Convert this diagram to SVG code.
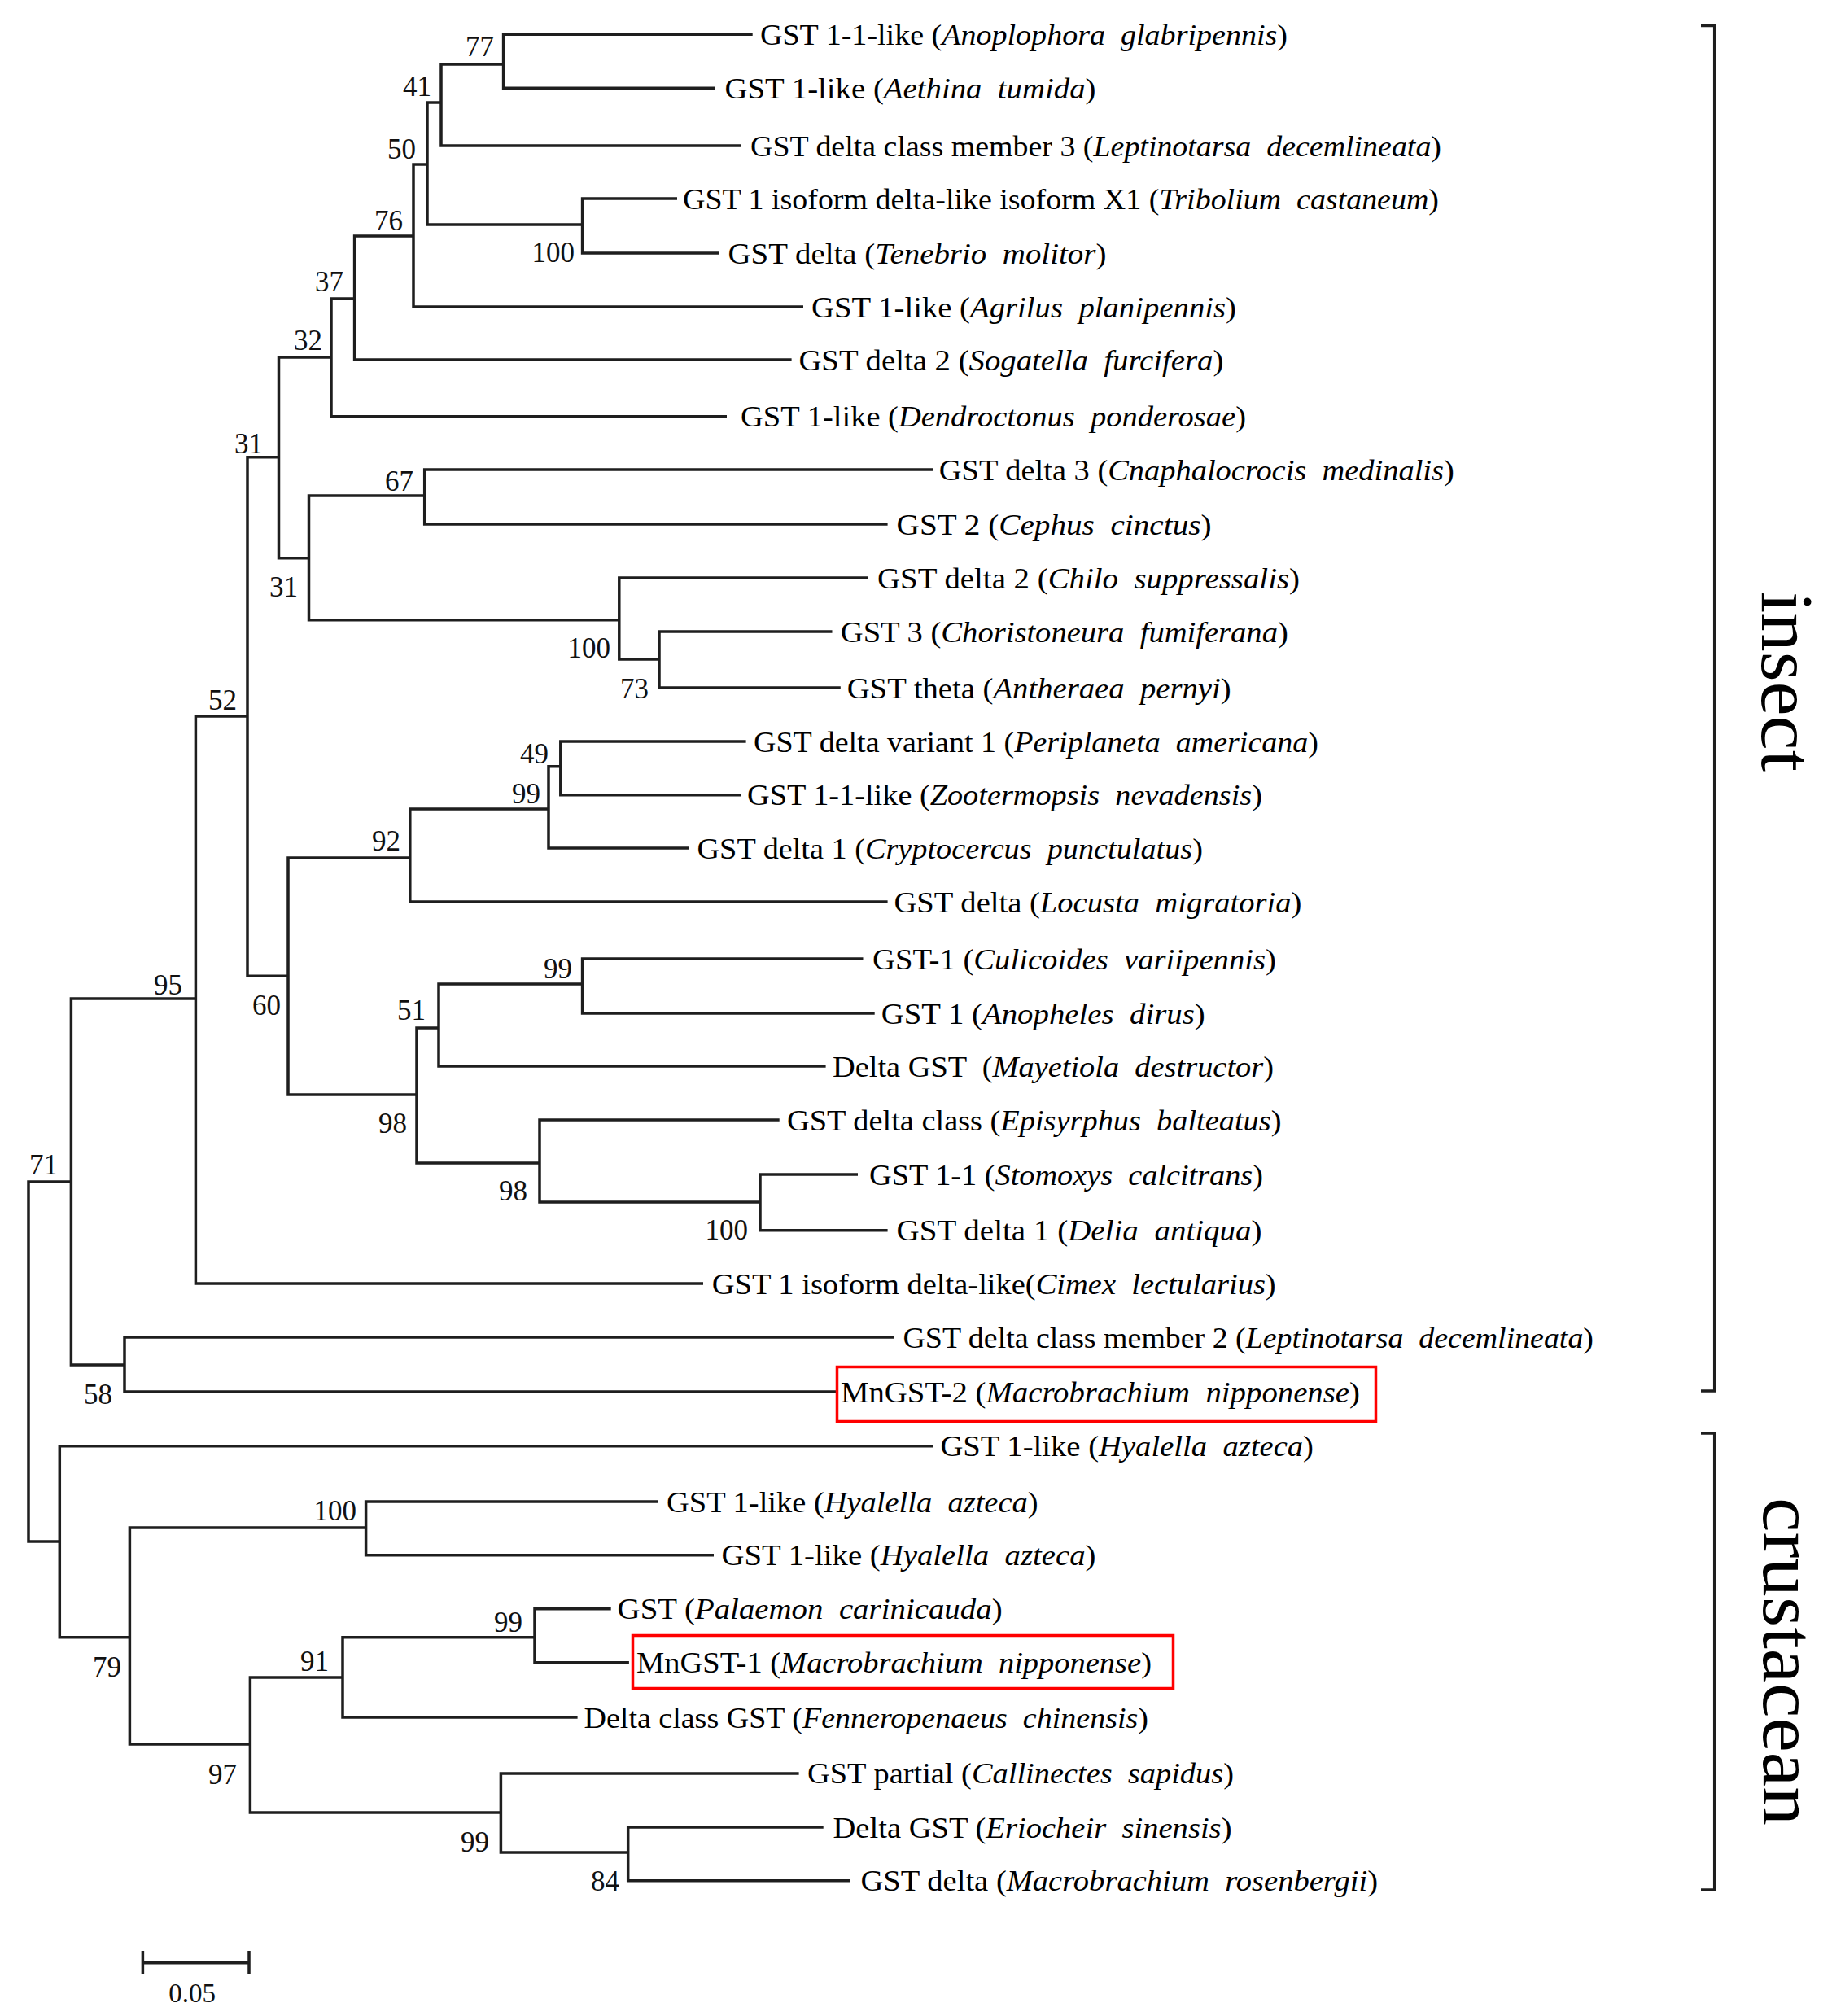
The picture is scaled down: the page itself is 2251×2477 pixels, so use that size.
<svg xmlns="http://www.w3.org/2000/svg" width="2251" height="2477" viewBox="0 0 2251 2477">
<style>
.t{font-family:"Liberation Serif","Times New Roman",serif;font-size:36px;fill:#000}
.i{font-style:italic}
.bs{font-family:"Liberation Serif","Times New Roman",serif;font-size:35px;fill:#111;text-anchor:end}
.ln{fill:none;stroke:#1e1e1e;stroke-width:3.5;stroke-linejoin:miter}
.box{fill:none;stroke:#ff0000;stroke-width:3.5}
.clade{font-family:"Liberation Serif","Times New Roman",serif;font-size:92px;fill:#000}
</style>
<rect width="2251" height="2477" fill="#fff"/>
<g id="connectors" class="ln">
<path d="M924.7 42.3H618.6V108.3H878.6"/>
<path d="M618.6 79H542V179H910.7"/>
<path d="M542 126H525V276H715.6"/>
<path d="M832 244H715.6V311H883"/>
<path d="M525 202H508V377H987"/>
<path d="M508 290H435.6V442H972.6"/>
<path d="M435.6 367H407V511.7H893"/>
<path d="M407 439H342.5V685.7H379.5"/>
<path d="M521.7 609H379.5V761.7H760.8"/>
<path d="M1146 577H521.7V644H1090.6"/>
<path d="M1066.8 710H760.8V810H810"/>
<path d="M1022.5 776H810V845H1032.8"/>
<path d="M342.5 561.7H304V1199.3H354"/>
<path d="M503.8 1054H354V1345H512"/>
<path d="M674 994H503.8V1108H1090.6"/>
<path d="M688.8 941.7H674V1042H847"/>
<path d="M916.6 911H688.8V976.7H910"/>
<path d="M539 1263H512V1429H663"/>
<path d="M715.6 1209H539V1310H1014.6"/>
<path d="M1060.5 1178H715.6V1245H1074.7"/>
<path d="M957.7 1376H663V1477H934"/>
<path d="M1054 1443H934V1511.7H1090.6"/>
<path d="M304 880H240.4V1577H864"/>
<path d="M240.4 1227H87.4V1677H153"/>
<path d="M1098.5 1643H153V1710H1027"/>
<path d="M87.4 1452H35V1894H73.3"/>
<path d="M1146 1776.7H73.3V2011.7H159.4"/>
<path d="M449.6 1877H159.4V2143H307.4"/>
<path d="M809 1845H449.6V1910.7H877"/>
<path d="M421 2061H307.4V2227H615.4"/>
<path d="M657 2011.7H421V2110H709.6"/>
<path d="M750.7 1976.7H657V2042.7H772.9"/>
<path d="M981.6 2179H615.4V2276H771.7"/>
<path d="M1011.7 2245H771.7V2310.7H1045"/>
</g>
<g id="leaves">
<g id="leaf-01"><text class="t" x="934" y="54.8" textLength="648" lengthAdjust="spacingAndGlyphs" xml:space="preserve">GST 1-1-like (<tspan class="i">Anoplophora  glabripennis</tspan>)</text></g>
<g id="leaf-02"><text class="t" x="890.5" y="120.8" textLength="456" lengthAdjust="spacingAndGlyphs" xml:space="preserve">GST 1-like (<tspan class="i">Aethina  tumida</tspan>)</text></g>
<g id="leaf-03"><text class="t" x="922" y="191.5" textLength="849" lengthAdjust="spacingAndGlyphs" xml:space="preserve">GST delta class member 3 (<tspan class="i">Leptinotarsa  decemlineata</tspan>)</text></g>
<g id="leaf-04"><text class="t" x="839" y="256.5" textLength="929" lengthAdjust="spacingAndGlyphs" xml:space="preserve">GST 1 isoform delta-like isoform X1 (<tspan class="i">Tribolium  castaneum</tspan>)</text></g>
<g id="leaf-05"><text class="t" x="894.4" y="323.5" textLength="465" lengthAdjust="spacingAndGlyphs" xml:space="preserve">GST delta (<tspan class="i">Tenebrio  molitor</tspan>)</text></g>
<g id="leaf-06"><text class="t" x="997" y="389.5" textLength="522" lengthAdjust="spacingAndGlyphs" xml:space="preserve">GST 1-like (<tspan class="i">Agrilus  planipennis</tspan>)</text></g>
<g id="leaf-07"><text class="t" x="981.4" y="454.5" textLength="522" lengthAdjust="spacingAndGlyphs" xml:space="preserve">GST delta 2 (<tspan class="i">Sogatella  furcifera</tspan>)</text></g>
<g id="leaf-08"><text class="t" x="910" y="524" textLength="621" lengthAdjust="spacingAndGlyphs" xml:space="preserve">GST 1-like (<tspan class="i">Dendroctonus  ponderosae</tspan>)</text></g>
<g id="leaf-09"><text class="t" x="1153.8" y="590" textLength="633" lengthAdjust="spacingAndGlyphs" xml:space="preserve">GST delta 3 (<tspan class="i">Cnaphalocrocis  medinalis</tspan>)</text></g>
<g id="leaf-10"><text class="t" x="1101.6" y="656.5" textLength="387" lengthAdjust="spacingAndGlyphs" xml:space="preserve">GST 2 (<tspan class="i">Cephus  cinctus</tspan>)</text></g>
<g id="leaf-11"><text class="t" x="1078" y="722.5" textLength="519" lengthAdjust="spacingAndGlyphs" xml:space="preserve">GST delta 2 (<tspan class="i">Chilo  suppressalis</tspan>)</text></g>
<g id="leaf-12"><text class="t" x="1032.8" y="788.5" textLength="550" lengthAdjust="spacingAndGlyphs" xml:space="preserve">GST 3 (<tspan class="i">Choristoneura  fumiferana</tspan>)</text></g>
<g id="leaf-13"><text class="t" x="1040.7" y="857.5" textLength="472" lengthAdjust="spacingAndGlyphs" xml:space="preserve">GST theta (<tspan class="i">Antheraea  pernyi</tspan>)</text></g>
<g id="leaf-14"><text class="t" x="926" y="923.5" textLength="694" lengthAdjust="spacingAndGlyphs" xml:space="preserve">GST delta variant 1 (<tspan class="i">Periplaneta  americana</tspan>)</text></g>
<g id="leaf-15"><text class="t" x="918" y="989" textLength="633" lengthAdjust="spacingAndGlyphs" xml:space="preserve">GST 1-1-like (<tspan class="i">Zootermopsis  nevadensis</tspan>)</text></g>
<g id="leaf-16"><text class="t" x="856.5" y="1054.5" textLength="621.5" lengthAdjust="spacingAndGlyphs" xml:space="preserve">GST delta 1 (<tspan class="i">Cryptocercus  punctulatus</tspan>)</text></g>
<g id="leaf-17"><text class="t" x="1098.5" y="1120.5" textLength="501" lengthAdjust="spacingAndGlyphs" xml:space="preserve">GST delta (<tspan class="i">Locusta  migratoria</tspan>)</text></g>
<g id="leaf-18"><text class="t" x="1072" y="1190.5" textLength="496" lengthAdjust="spacingAndGlyphs" xml:space="preserve">GST-1 (<tspan class="i">Culicoides  variipennis</tspan>)</text></g>
<g id="leaf-19"><text class="t" x="1082.7" y="1257.5" textLength="398" lengthAdjust="spacingAndGlyphs" xml:space="preserve">GST 1 (<tspan class="i">Anopheles  dirus</tspan>)</text></g>
<g id="leaf-20"><text class="t" x="1023" y="1322.5" textLength="542" lengthAdjust="spacingAndGlyphs" xml:space="preserve">Delta GST  (<tspan class="i">Mayetiola  destructor</tspan>)</text></g>
<g id="leaf-21"><text class="t" x="967" y="1388.5" textLength="607.5" lengthAdjust="spacingAndGlyphs" xml:space="preserve">GST delta class (<tspan class="i">Episyrphus  balteatus</tspan>)</text></g>
<g id="leaf-22"><text class="t" x="1068" y="1455.5" textLength="484" lengthAdjust="spacingAndGlyphs" xml:space="preserve">GST 1-1 (<tspan class="i">Stomoxys  calcitrans</tspan>)</text></g>
<g id="leaf-23"><text class="t" x="1101.6" y="1524" textLength="449" lengthAdjust="spacingAndGlyphs" xml:space="preserve">GST delta 1 (<tspan class="i">Delia  antiqua</tspan>)</text></g>
<g id="leaf-24"><text class="t" x="874.7" y="1589.5" textLength="693" lengthAdjust="spacingAndGlyphs" xml:space="preserve">GST 1 isoform delta-like(<tspan class="i">Cimex  lectularius</tspan>)</text></g>
<g id="leaf-25"><text class="t" x="1109.5" y="1655.5" textLength="848.5" lengthAdjust="spacingAndGlyphs" xml:space="preserve">GST delta class member 2 (<tspan class="i">Leptinotarsa  decemlineata</tspan>)</text></g>
<g id="leaf-26"><rect class="box" x="1028.5" y="1679.5" width="662" height="67"/><text class="t" x="1033" y="1722.5" textLength="638" lengthAdjust="spacingAndGlyphs" xml:space="preserve">MnGST-2 (<tspan class="i">Macrobrachium  nipponense</tspan>)</text></g>
<g id="leaf-27"><text class="t" x="1155.4" y="1789" textLength="458.6" lengthAdjust="spacingAndGlyphs" xml:space="preserve">GST 1-like (<tspan class="i">Hyalella  azteca</tspan>)</text></g>
<g id="leaf-28"><text class="t" x="819" y="1857.5" textLength="456.6" lengthAdjust="spacingAndGlyphs" xml:space="preserve">GST 1-like (<tspan class="i">Hyalella  azteca</tspan>)</text></g>
<g id="leaf-29"><text class="t" x="886.5" y="1923" textLength="460" lengthAdjust="spacingAndGlyphs" xml:space="preserve">GST 1-like (<tspan class="i">Hyalella  azteca</tspan>)</text></g>
<g id="leaf-30"><text class="t" x="758.6" y="1989" textLength="473" lengthAdjust="spacingAndGlyphs" xml:space="preserve">GST (<tspan class="i">Palaemon  carinicauda</tspan>)</text></g>
<g id="leaf-31"><rect class="box" x="777.5" y="2009.5" width="664" height="65"/><text class="t" x="782" y="2055" textLength="633" lengthAdjust="spacingAndGlyphs" xml:space="preserve">MnGST-1 (<tspan class="i">Macrobrachium  nipponense</tspan>)</text></g>
<g id="leaf-32"><text class="t" x="717.5" y="2122.5" textLength="693.5" lengthAdjust="spacingAndGlyphs" xml:space="preserve">Delta class GST (<tspan class="i">Fenneropenaeus  chinensis</tspan>)</text></g>
<g id="leaf-33"><text class="t" x="992" y="2190.5" textLength="524" lengthAdjust="spacingAndGlyphs" xml:space="preserve">GST partial (<tspan class="i">Callinectes  sapidus</tspan>)</text></g>
<g id="leaf-34"><text class="t" x="1023.5" y="2257.5" textLength="490" lengthAdjust="spacingAndGlyphs" xml:space="preserve">Delta GST (<tspan class="i">Eriocheir  sinensis</tspan>)</text></g>
<g id="leaf-35"><text class="t" x="1057.5" y="2323" textLength="635.5" lengthAdjust="spacingAndGlyphs" xml:space="preserve">GST delta (<tspan class="i">Macrobrachium  rosenbergii</tspan>)</text></g>
</g>
<g id="bootstrap">
<g id="node-n77"><text class="bs" x="607" y="69">77</text></g>
<g id="node-n41"><text class="bs" x="530" y="118">41</text></g>
<g id="node-n50"><text class="bs" x="511" y="195">50</text></g>
<g id="node-n100a"><text class="bs" x="706" y="322">100</text></g>
<g id="node-n76"><text class="bs" x="495" y="283">76</text></g>
<g id="node-n37"><text class="bs" x="422" y="358">37</text></g>
<g id="node-n32"><text class="bs" x="396" y="430">32</text></g>
<g id="node-n31a"><text class="bs" x="323" y="557">31</text></g>
<g id="node-n31b"><text class="bs" x="366" y="733">31</text></g>
<g id="node-n67"><text class="bs" x="508" y="603">67</text></g>
<g id="node-n100b"><text class="bs" x="750" y="808">100</text></g>
<g id="node-n73"><text class="bs" x="797" y="858">73</text></g>
<g id="node-n52"><text class="bs" x="291" y="872">52</text></g>
<g id="node-n92"><text class="bs" x="492" y="1045">92</text></g>
<g id="node-n99a"><text class="bs" x="664" y="987">99</text></g>
<g id="node-n49"><text class="bs" x="674" y="938">49</text></g>
<g id="node-n95"><text class="bs" x="224" y="1222">95</text></g>
<g id="node-n99b"><text class="bs" x="703" y="1202">99</text></g>
<g id="node-n51"><text class="bs" x="523" y="1253">51</text></g>
<g id="node-n60"><text class="bs" x="345" y="1247">60</text></g>
<g id="node-n98a"><text class="bs" x="500" y="1392">98</text></g>
<g id="node-n98b"><text class="bs" x="648" y="1475">98</text></g>
<g id="node-n100c"><text class="bs" x="919" y="1523">100</text></g>
<g id="node-n71"><text class="bs" x="71" y="1443">71</text></g>
<g id="node-n58"><text class="bs" x="138" y="1725">58</text></g>
<g id="node-n100d"><text class="bs" x="438" y="1868">100</text></g>
<g id="node-n79"><text class="bs" x="149" y="2060">79</text></g>
<g id="node-n99c"><text class="bs" x="642" y="2005">99</text></g>
<g id="node-n91"><text class="bs" x="404" y="2053">91</text></g>
<g id="node-n97"><text class="bs" x="291" y="2192">97</text></g>
<g id="node-n99d"><text class="bs" x="601" y="2275">99</text></g>
<g id="node-n84"><text class="bs" x="761" y="2323">84</text></g>
</g>
<g id="clade-insect">
<path class="ln" d="M2090 31.6H2106.7V1709H2090"/>
<text class="clade" transform="translate(2165 727) rotate(90)" textLength="221" lengthAdjust="spacingAndGlyphs">insect</text>
</g>
<g id="clade-crustacean">
<path class="ln" d="M2090 1761H2106.7V2322H2090"/>
<text class="clade" transform="translate(2167 1840) rotate(90)" textLength="403" lengthAdjust="spacingAndGlyphs">crustacean</text>
</g>
<g id="scale-bar">
<path class="ln" d="M175.4 2411.7H306M175.4 2397V2425M306 2397V2425"/>
<text class="bs" x="236" y="2460" style="text-anchor:middle;font-size:33px">0.05</text>
</g>
</svg>
